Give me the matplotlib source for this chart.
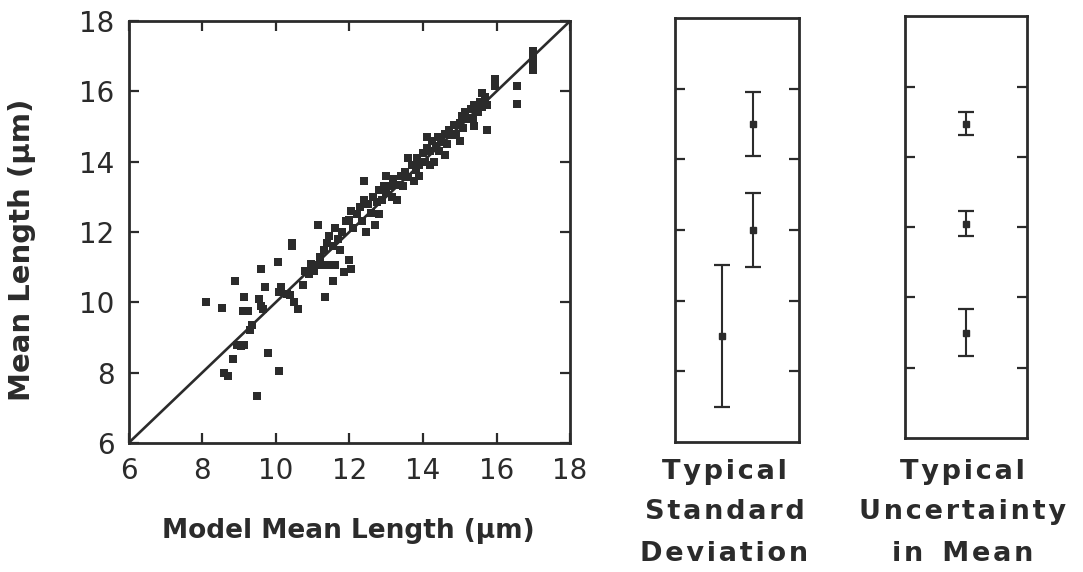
import matplotlib.pyplot as plt

model_len = [8.1, 8.55, 8.9, 9.15, 9.1, 9.25, 9.6, 9.7, 9.55, 9.65, 9.6, 10.05, 10.45, 10.45,
             10.1, 10.15, 10.3, 10.4, 10.5, 10.6, 11.35, 11.15, 11.55, 11.85, 12.0, 12.05,
             12.4, 12.7, 13.75, 15.95, 15.95, 16.55, 16.55, 15.75, 17.0, 17.0, 17.0, 17.0,
             9.05, 9.15, 8.95, 8.85, 8.6, 8.7, 9.8, 10.1, 9.5, 9.35, 9.3,
             10.8, 10.9, 10.95, 11.0, 11.1, 11.2, 11.35, 11.5, 11.6, 10.75, 11.05, 11.2, 11.3,
             11.4, 11.45, 11.55, 11.6, 11.7, 11.75, 11.8, 11.9, 12.0, 12.05, 12.1, 12.2, 12.3,
             12.35, 12.45, 12.5, 12.6, 12.65, 12.75, 12.8, 12.9, 12.95, 13.0, 13.1, 13.15, 13.2,
             13.3, 13.4, 13.45, 13.5, 13.6, 13.7, 13.8, 13.85, 13.9, 14.0, 14.05, 14.1, 14.2,
             14.25, 14.3, 14.35, 14.4, 14.45, 14.5, 14.6, 14.65, 14.7, 14.8, 14.85, 14.9, 15.0,
             15.05, 15.1, 15.15, 15.2, 15.3, 15.35, 15.4, 15.5, 15.55, 15.6, 15.7, 15.75, 15.0,
             14.6, 14.2, 13.9, 13.3, 12.8, 15.4, 14.1, 13.6, 13.0, 15.6, 12.4]
mean_len = [10.0, 9.85, 10.6, 10.15, 9.75, 9.75, 10.95, 10.45, 10.1, 9.8, 9.9, 11.15, 11.6, 11.7,
            10.3, 10.45, 10.25, 10.2, 10.0, 9.8, 10.15, 12.2, 10.6, 10.85, 11.2, 10.95,
            13.45, 12.2, 13.45, 16.35, 16.15, 16.15, 15.65, 14.9, 17.15, 16.95, 16.75, 16.6,
            8.75, 8.8, 8.8, 8.4, 8.0, 7.9, 8.55, 8.05, 7.35, 9.35, 9.2,
            10.9, 10.8, 11.1, 11.0, 11.05, 11.05, 11.05, 11.05, 11.05, 10.5, 10.9, 11.3, 11.5,
            11.7, 11.9, 11.6, 12.1, 11.8, 11.5, 12.0, 12.3, 12.35, 12.6, 12.1, 12.5, 12.7,
            12.3, 12.0, 12.8, 12.55, 13.0, 12.85, 13.2, 12.9, 13.3, 13.1, 13.3, 13.0, 13.5,
            13.35, 13.6, 13.3, 13.7, 13.55, 13.9, 13.75, 14.1, 13.9, 14.25, 14.0, 14.4, 14.3,
            14.6, 14.0, 14.45, 14.7, 14.3, 14.55, 14.8, 14.5, 14.9, 14.75, 15.05, 14.8, 15.1,
            15.3, 14.95, 15.4, 15.2, 15.5, 15.25, 15.6, 15.4, 15.7, 15.55, 15.85, 15.6, 14.6,
            14.2, 13.9, 13.6, 12.9, 12.5, 15.0, 14.7, 14.1, 13.6, 15.95, 12.9]

xticks = [6, 8, 10, 12, 14, 16, 18]
yticks = [6, 8, 10, 12, 14, 16, 18]

# typical standard deviation bars
sd_x = [0.375, 0.63, 0.63]
sd_mean = [9.0, 12.0, 15.0]
sd_err = [2.0, 1.05, 0.9]

# typical uncertainty in the mean
unc_x = [0.5, 0.5, 0.5]
unc_mean = [9.0, 12.1, 14.95]
unc_err = [0.67, 0.35, 0.32]

ink = '#2b2b2b'
plt.rcParams['font.family'] = ['DejaVu Sans']

fig = plt.figure(figsize=(10.83, 5.72), dpi=100)
ax = fig.add_axes([0.1187, 0.2255, 0.4077, 0.7378])
ax1 = fig.add_axes([0.6233, 0.2273, 0.1145, 0.7413])
ax2 = fig.add_axes([0.8356, 0.2343, 0.1127, 0.7369])

ax.plot([6, 18], [6, 18], color=ink, lw=1.9, zorder=2)
ax.scatter(model_len, mean_len, marker='s', s=32, color=ink, linewidths=0, zorder=3)
ax.set_xlim(6, 18)
ax.set_ylim(6, 18)
ax.set_xticks(xticks)
ax.set_yticks(yticks)
ax.tick_params(direction='in', length=7, width=1.6, color=ink, top=True, right=True,
               labelsize=20, labelcolor=ink, pad=10)

for a, xs, ms, es in [(ax1, sd_x, sd_mean, sd_err), (ax2, unc_x, unc_mean, unc_err)]:
    a.errorbar(xs, ms, yerr=es, fmt='s', color=ink, ms=4.5, elinewidth=1.5,
               capsize=5.5, capthick=1.6)
    a.set_xlim(0, 1)
    a.set_ylim(6, 18)
    a.set_xticks([])
    a.set_yticks([8, 10, 12, 14, 16])
    a.tick_params(direction='in', length=7, width=1.6, color=ink, left=True, right=True,
                  labelleft=False)

for a in [ax, ax1, ax2]:
    for s in a.spines.values():
        s.set_linewidth(2)
        s.set_color(ink)

fig.text(0.0203, 0.563, 'Mean Length (\u03bcm)', rotation=90, ha='center', va='center',
         fontsize=21, fontweight='bold', color=ink)
fig.text(0.322, 0.0594, 'Model Mean Length (\u03bcm)', ha='center', va='baseline',
         fontsize=19, fontweight='bold', color=ink)


def spaced(s):
    return '  '.join('\u200a'.join(w) for w in s.split(' '))


captions = [(0.669, ['Typical', 'Standard', 'Deviation']),
            (0.889, ['Typical', 'Uncertainty', 'in Mean'])]
baselines = [0.163, 0.092, 0.02]
for cx, lines in captions:
    for line, by in zip(lines, baselines):
        fig.text(cx, by, spaced(line), ha='center', va='baseline', fontsize=19.5,
                 fontweight='bold', color=ink)

fig.savefig('out.png', dpi=100)
